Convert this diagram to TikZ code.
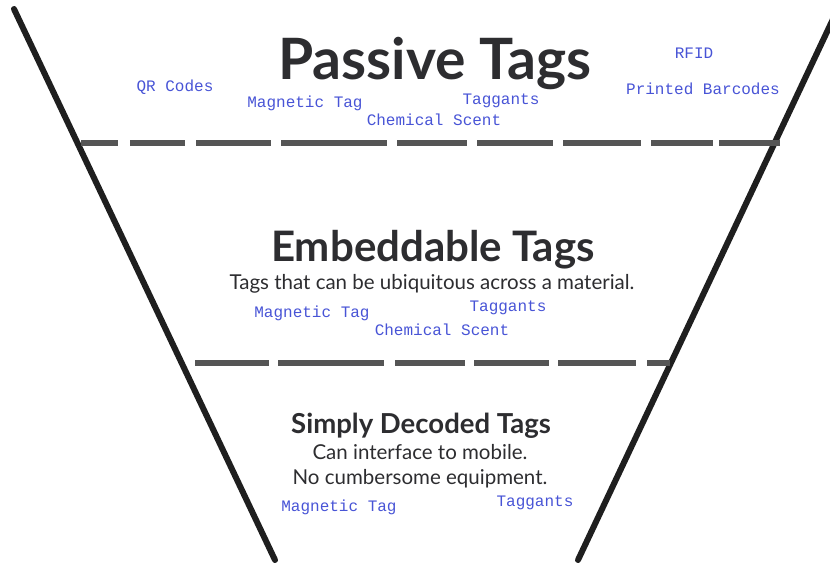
\documentclass[tikz,border=0pt]{standalone}
\usepackage{fontspec}
\setmainfont{Lato}
\newfontfamily\tagfont{Liberation Mono}
\definecolor{titlegray}{RGB}{45,45,48}
\definecolor{dashgray}{RGB}{85,85,85}
\definecolor{tagblue}{RGB}{72,84,214}
\tikzset{
  funnelside/.style={line width=6pt,line cap=round,black!88},
  levelline/.style={line width=6pt,dashgray},
  tiertitle/.style={anchor=base,inner sep=0pt,text=titlegray,font=\bfseries},
  tiernote/.style={anchor=base,inner sep=0pt,text=titlegray},
  tagname/.style={anchor=base,inner sep=0pt,text=tagblue,font=\tagfont\fontsize{16}{18}\selectfont}
}
\begin{document}
\begin{tikzpicture}[x=1pt,y=-1pt]
  \useasboundingbox (0,0) rectangle (830,565);
  \clip (0,0) rectangle (830,565);
  %funnel
  \coordinate (lefttop) at (14,9);
  \coordinate (leftbot) at (275,560);
  \coordinate (righttop) at (842,0);
  \coordinate (rightbot) at (578,560);
  \draw[funnelside] (lefttop) -- (leftbot);
  \draw[funnelside] (righttop) -- (rightbot);
  %levels
  \coordinate (upperL) at (81,143);
  \coordinate (upperR) at (780,143);
  \coordinate (lowerL) at (195,363);
  \coordinate (lowerR) at (670,363);
  \draw[levelline,dash pattern=on 37pt off 12pt on 55pt off 11pt on 75pt off 10pt on 106pt off 10pt on 70pt off 10pt on 76pt off 10pt on 78pt off 10pt on 62pt off 6pt on 80pt] (upperL) -- (upperR);
  \draw[levelline,dash pattern=on 74pt off 9pt on 106pt off 11pt on 70pt off 9pt on 75pt off 9pt on 78pt off 11pt on 40pt] (lowerL) -- (lowerR);
  %passive
  \node[tiertitle,font=\bfseries\fontsize{57}{60}\selectfont] (passive) at (435,79) {Passive Tags};
  \node[tagname] (qr) at (175,91) {QR Codes};
  \node[tagname] (magA) at (305,107) {Magnetic Tag};
  \node[tagname] (chemA) at (434,125) {Chemical Scent};
  \node[tagname] (tagA) at (501,104) {Taggants};
  \node[tagname] (rfid) at (694,58) {RFID};
  \node[tagname] (barcode) at (703,94) {Printed Barcodes};
  %embeddable
  \node[tiertitle,font=\bfseries\fontsize{42}{44}\selectfont] (embed) at (433,261) {Embeddable Tags};
  \node[tiernote,font=\fontsize{20.5}{22}\selectfont] (embednote) at (432,289) {Tags that can be ubiquitous across a material.};
  \node[tagname] (magB) at (312,317) {Magnetic Tag};
  \node[tagname] (tagB) at (508,311) {Taggants};
  \node[tagname] (chemB) at (442,335) {Chemical Scent};
  %simply decoded
  \node[tiertitle,font=\bfseries\fontsize{27.5}{29}\selectfont] (simple) at (421,433) {Simply Decoded Tags};
  \node[tiernote,font=\fontsize{20.5}{22}\selectfont] (mobile) at (420,459) {Can interface to mobile.};
  \node[tiernote,font=\fontsize{20.5}{22}\selectfont] (equip) at (420,484) {No cumbersome equipment.};
  \node[tagname] (magC) at (339,511) {Magnetic Tag};
  \node[tagname] (tagC) at (535,506) {Taggants};
\end{tikzpicture}
\end{document}
